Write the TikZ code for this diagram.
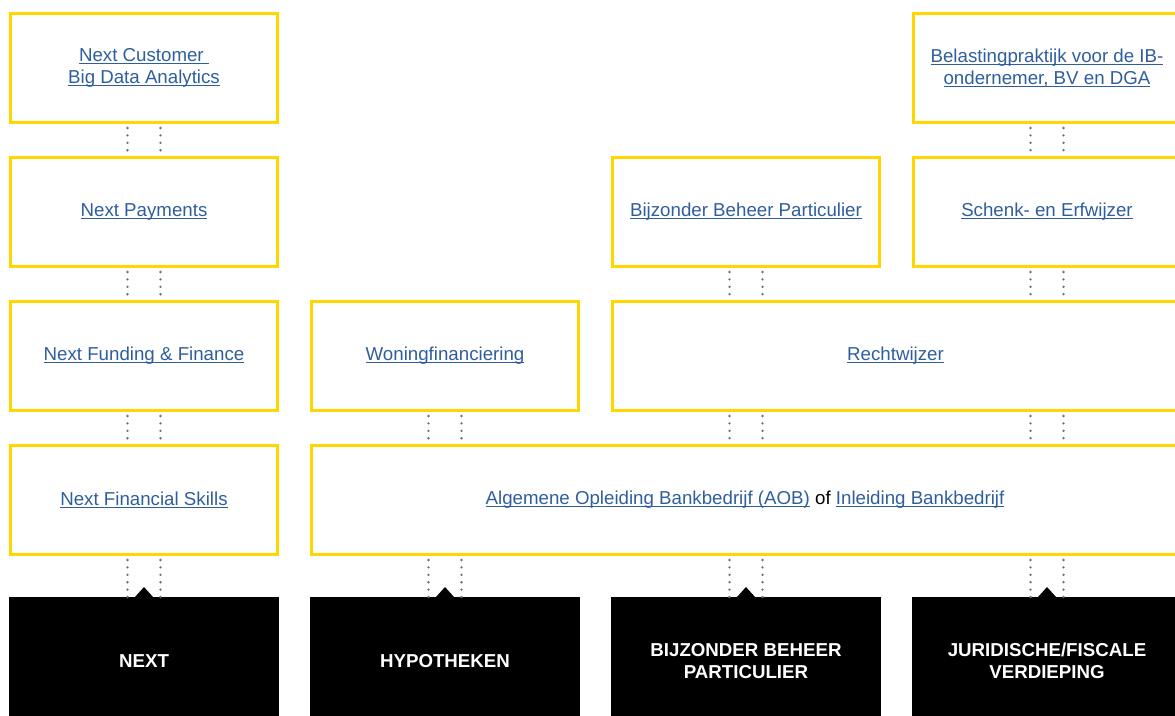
\documentclass[tikz,border=0pt]{standalone}
\usepackage{fontspec}
\setmainfont{Liberation Sans}
\usetikzlibrary{positioning}
\definecolor{linkblue}{RGB}{47,94,158}
\definecolor{ochre}{RGB}{255,214,0}
\definecolor{dotgray}{RGB}{110,110,110}
\newcommand{\lnk}[1]{\textcolor{linkblue}{\setbox0\hbox{#1}\rlap{\rule[-2pt]{\wd0}{0.8pt}}\box0}}

\begin{document}
\begin{tikzpicture}[x=1pt, y=1pt, node distance=32pt and 31pt,
    course/.style={draw=ochre, line width=3pt, minimum width=267pt, minimum height=109pt,
      align=center, inner sep=0pt, font=\fontsize{18.7}{22}\selectfont},
    track/.style={fill=black, draw=black, line width=3pt, minimum width=267pt, minimum height=125pt,
      align=center, inner sep=0pt, text=white, font=\fontsize{18.7}{22}\selectfont\bfseries},
    dotlink/.style={dotgray, line width=2.6pt, line cap=round, dash pattern=on 0pt off 7.4pt, shorten <=4pt}]
    \useasboundingbox (0,0) rectangle (1175,-715);

    % NEXT column
    \node[course, anchor=north west] (nca) at (9,-12) {\lnk{Next Customer\ }\\\lnk{Big Data Analytics}};
    \node[course] (npay) [below=of nca] {\lnk{Next Payments}};
    \node[course] (nff) [below=of npay] {\lnk{Next Funding \& Finance}};
    \node[course] (nfs) [below=of nff] {\lnk{Next Financial Skills}};

    % tracks
    \node[track] (next) [below=41pt of nfs] {NEXT};
    \node[track] (hyp) [right=of next] {HYPOTHEKEN};
    \node[track] (bbpb) [right=of hyp] {BIJZONDER BEHEER\\PARTICULIER};
    \node[track] (jur) [right=of bbpb] {JURIDISCHE/FISCALE\\VERDIEPING};

    % other courses
    \node[course, minimum width=867pt] (aob) [right=of nfs]
      {\lnk{Algemene Opleiding Bankbedrijf (AOB)} of \lnk{Inleiding Bankbedrijf}};
    \node[course] (won) [right=of nff] {\lnk{Woningfinanciering}};
    \node[course, minimum width=566pt] (recht) [right=of won] {\lnk{Rechtwijzer}};
    \node[course] (bbp) [above=of recht.north west, anchor=south west] {\lnk{Bijzonder Beheer Particulier}};
    \node[course] (schenk) [right=of bbp] {\lnk{Schenk- en Erfwijzer}};
    \node[course] (bel) [above=of schenk] {\lnk{Belastingpraktijk voor de IB-}\\\lnk{ondernemer, BV en DGA}};

    % notches on the tracks
    \foreach \b in {next, hyp, bbpb, jur}
      \fill (\b.north) ++(-9,0) -- ++(9,10) -- ++(9,-10) -- cycle;

    % dotted links per column
    \foreach \col/\up/\low in {next/nca/npay, next/npay/nff, next/nff/nfs, next/nfs/next,
        hyp/won/aob, hyp/aob/hyp,
        bbpb/bbp/recht, bbpb/recht/aob, bbpb/aob/bbpb,
        jur/bel/schenk, jur/schenk/recht, jur/recht/aob, jur/aob/jur}
      \foreach \dx in {-16.5pt, 16.5pt}
        \draw[dotlink] ([xshift=\dx]\col.north |- \up.south) -- ([xshift=\dx]\col.north |- \low.north);
\end{tikzpicture}
\end{document}
